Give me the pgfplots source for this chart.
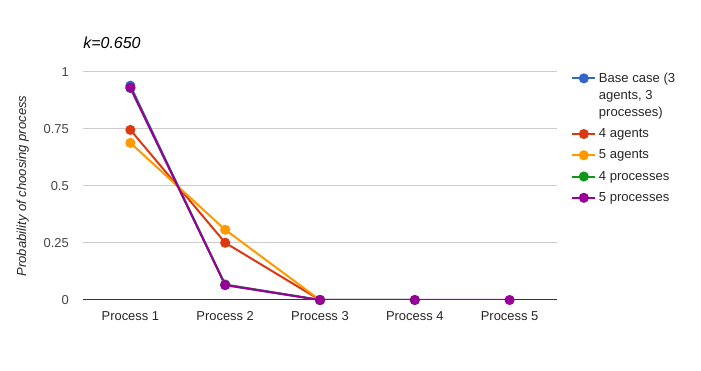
\documentclass[border=0pt]{standalone}
\usepackage{fontspec}
\setmainfont{Liberation Sans}
\usepackage{pgfplots}
\pgfplotsset{compat=1.18}
\definecolor{gblue}{HTML}{3366CC}
\definecolor{gred}{HTML}{DC3912}
\definecolor{gorange}{HTML}{FF9900}
\definecolor{ggreen}{HTML}{109618}
\definecolor{gpurple}{HTML}{990099}
\definecolor{gridc}{HTML}{CCCCCC}
\definecolor{txt}{HTML}{444444}

\begin{document}
\begin{tikzpicture}
\useasboundingbox (-62.25pt,-53.25pt) rectangle (463.5pt,225pt);
\begin{axis}[
    scale only axis,
    width=355.5pt,
    height=171pt,
    xmin=-0.5, xmax=4.5,
    ymin=0, ymax=1,
    xtick={0,1,2,3,4},
    xticklabels={Process 1,Process 2,Process 3,Process 4,Process 5},
    ytick={0.25,0.5,0.75,1},
    yticklabels={0.25,0.5,0.75,1},
    extra y ticks={0},
    extra y tick labels={0},
    extra y tick style={grid style={draw=black!80, line width=0.75pt}},
    major tick length=0pt,
    axis line style={draw=none},
    ymajorgrids,
    grid style={draw=gridc, line width=0.75pt},
    font=\fontsize{9.7}{11}\selectfont,
    /pgf/number format/assume math mode=true,
    xticklabel style={anchor=center, yshift=-12pt, text=black!85},
    yticklabel style={anchor=east, inner sep=0pt, xshift=-10.5pt, text=txt},
    title={k=0.650},
    title style={at={(0,1.092)}, anchor=west, yshift=0pt, inner sep=0pt, font=\fontsize{12}{14}\selectfont\itshape},
    ylabel={Probability of choosing process},
    every axis y label/.style={at={(axis description cs:-0.127,0.5)}, rotate=90, anchor=center, font=\fontsize{9.8}{11}\selectfont\itshape, text=black!85},
    legend style={at={(1.03,1.01)}, anchor=north west, draw=none, fill=none,
        inner sep=0pt, row sep=3.7pt, font=\fontsize{9.8}{12.8}\selectfont,
        cells={align=left, anchor=west, inner xsep=4.5pt}, text=black!85},
    legend cell align=left,
    every axis plot/.append style={line width=1.5pt, mark=*, mark size=3pt},
]
\addplot[color=gblue, legend image post style={yshift=12.8pt}] coordinates {(0,0.94) (1,0.065) (2,0)};
\addplot[color=gred] coordinates {(0,0.746) (1,0.251) (2,0)};
\addplot[color=gorange] coordinates {(0,0.689) (1,0.308) (2,0)};
\addplot[color=ggreen] coordinates {(0,0.93) (1,0.068) (2,0) (3,0)};
\addplot[color=gpurple] coordinates {(0,0.931) (1,0.066) (2,0) (3,0) (4,0)};
\legend{{Base case (3\\agents, 3\\processes)},4 agents,5 agents,4 processes,5 processes}
\end{axis}
\end{tikzpicture}
\end{document}
